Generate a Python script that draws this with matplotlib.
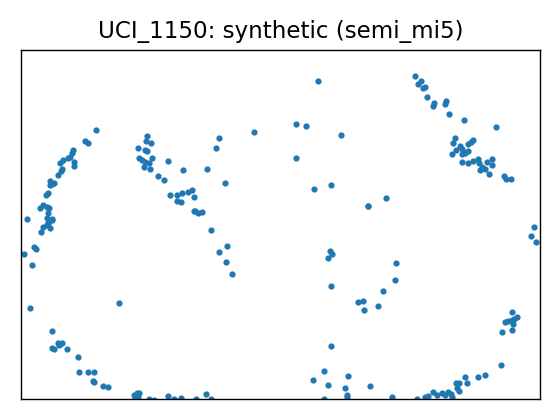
import matplotlib
matplotlib.use("Agg")
import matplotlib.pyplot as plt

# point coordinates (arbitrary units, no ticks shown)
x = [96, 85, 88.3, 73.3, 72.3, 70, 68.3, 63.3, 60, 74.3, 74.3, 62.3, 61, 58.3, 50, 50, 54.3, 51.7,
     48.3, 46, 43.3, 40, 46.7, 49.3, 48.3, 46.7, 52.3, 48.3, 27.3,
     147.3, 146, 151, 138.3, 145, 146.7, 151.7, 139.3, 141.7, 145, 149.3, 144.3, 150.3,
     168.3, 183.3, 158.3, 164.3, 170.3, 176.7, 181.7, 188.3, 192.3, 176.7, 181, 194.3,
     43.3, 46.7, 48.3, 51.7, 50, 41, 34.3, 35.7, 24.3, 32.3, 30, 119.3,
     52.3, 57.7, 61.7, 59.3, 52.3, 54.3, 67.3, 78.3, 79.3, 88.3, 94.3, 93.3, 94.3,
     103.3, 108.3, 134.3, 136.7, 139.3, 135, 138.3, 149.3, 154.3, 168.3, 174.3,
     318.3, 296.3, 306.3, 254.3, 219.3, 216.3, 341.3, 296.3, 207.3, 225.3, 194.3,
     195, 198.3, 201.7, 314.3, 331.3, 367.7,
     211.3, 227.3, 219.3, 226.3, 232.3, 330, 332.3, 328.3, 331.3, 358.3, 363.3, 364.3,
     331.3, 324.3, 313.3, 328.3, 348.3, 345.3, 346.7, 347.3, 370, 206, 211.3, 324.3,
     181, 196,
     415.3, 421, 417.7, 423.3, 425.3, 427.3, 434, 433.3, 446, 445, 449.3, 464.3, 496.3,
     455, 453.3, 460, 456, 461.7, 468.3, 471, 473.3, 467.7, 452.3, 461.7, 465,
     462.3, 468.3, 473.3, 478.3, 479.3, 482.3, 480, 485, 486.7, 491.7, 491.7, 489.3,
     504.3, 506, 511, 386.3, 368.3,
     534.3, 531, 535.7, 396.3, 395.3, 383.3, 378.3,
     512, 505, 508.3, 511.7, 516.7, 514.3, 513.3, 511.7, 502, 501,
     485.3, 478.3, 465, 466.7, 459, 455.7, 456.7, 459.3, 448.3, 451, 442.3, 445,
     433.3, 436.7, 428.3, 425, 452.3, 417.3, 391.7]
y_px = [130.3, 140.7, 143.3, 150, 153.3, 156.7, 158.3, 160, 163.3, 161.7, 165.7, 169, 171, 175, 181, 185, 183.3, 184.3,
        193.3, 195, 205, 208.3, 206.7, 208.3, 213.3, 218.3, 219, 222.7, 219,
        135.7, 141, 143.3, 148.3, 150, 151, 157.7, 158.3, 160, 161.7, 162.7, 167.3, 169.3,
        161, 170, 176, 180, 195, 195, 193.3, 191.7, 190.3, 201, 201.7, 210.7,
        226.7, 225, 223.3, 220, 228.3, 232.3, 247.3, 249.3, 254.3, 265.3, 308.3, 303.3,
        331.3, 342.7, 342.7, 345, 348, 349.3, 349.3, 357.3, 372.3, 372.3, 372.3, 380.7, 381.7,
        386, 387.3, 395, 393.3, 393.3, 396.7, 396.7, 399, 400, 396, 399,
        81, 124.3, 126.3, 132.3, 138.3, 148.3, 135.3, 158.3, 169.3, 183.3, 197.3,
        211, 213.3, 212.3, 189.3, 185.3, 206.3,
        230.3, 246.3, 252.3, 262.3, 274.3, 251, 254, 258.3, 286.3, 302.3, 301.3, 310.3,
        346.3, 371.3, 380.3, 385.3, 376.3, 388.3, 395.3, 397.3, 386, 394, 398.7, 398.7,
        398, 399,
        76, 80.7, 84.3, 88.3, 87.3, 97.3, 102.7, 105.7, 101, 103.7, 114.3, 120.3, 127.3,
        137.7, 143.3, 145.7, 150, 149, 144.3, 142.3, 140.3, 151, 154.3, 154.3, 153.3,
        162.3, 163.3, 161, 159, 163.3, 166.7, 170, 169, 162.3, 159, 165, 174.3,
        175.7, 179, 179.3, 198.3, 206.3,
        227.3, 236, 242.3, 263.3, 280.3, 291.3, 306.3,
        312, 322.3, 320.7, 320, 317.3, 319.3, 324, 330, 332.3, 365.3,
        375.3, 377.3, 377.3, 382.7, 383.3, 383.3, 388.3, 391.3, 391.7, 394, 392.7, 395,
        392.3, 395, 396, 397.3, 396.7, 399, 396.7]
y = [420 - v for v in y_px]

fig, ax = plt.subplots(figsize=(5.6, 4.2), dpi=100)
fig.subplots_adjust(left=0.0375, right=0.964, bottom=0.051, top=0.882)

ax.scatter(x, y, s=12, color="tab:blue")
ax.set_xlim(21, 540)
ax.set_ylim(21.5, 370.5)
ax.set_xticks([])
ax.set_yticks([])
for sp in ax.spines.values():
    sp.set_linewidth(1.0)
ax.set_title("UCI_1150: synthetic (semi_mi5)", fontsize=16.6, pad=8)

fig.savefig("out.png", dpi=100)
